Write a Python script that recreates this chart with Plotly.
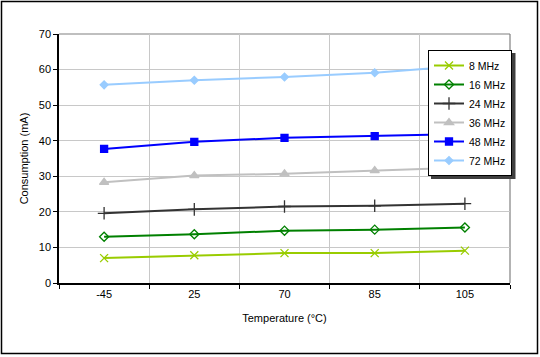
import plotly.graph_objects as go

temps = ["-45", "25", "70", "85", "105"]
freq_labels = ["8 MHz", "16 MHz", "24 MHz", "36 MHz", "48 MHz", "72 MHz"]
mhz8 = [7.0, 7.8, 8.4, 8.4, 9.1]
mhz16 = [13.0, 13.7, 14.7, 15.0, 15.6]
mhz24 = [19.6, 20.7, 21.5, 21.7, 22.3]
mhz36 = [28.3, 30.2, 30.7, 31.6, 32.5]
mhz48 = [37.7, 39.7, 40.8, 41.3, 41.9]
mhz72 = [55.7, 57.0, 57.9, 59.1, 61.1]

series = [mhz8, mhz16, mhz24, mhz36, mhz48, mhz72]
colors = ["#99CC00", "#008000", "#333333", "#C0C0C0", "#0000FF", "#99CCFF"]
symbols = ["x-thin", "diamond-open", "cross-thin", "triangle-up", "square", "diamond"]
sizes = [8, 7, 9, 8, 7, 6]

fig = go.Figure()
for name, vals, c, s, sz in zip(freq_labels, series, colors, symbols, sizes):
    fig.add_trace(go.Scatter(
        x=temps, y=vals, name=name, mode="lines+markers",
        line=dict(color=c, width=2),
        marker=dict(symbol=s, size=sz, color=c, line=dict(color=c, width=1.3)),
    ))

L, R, T, B = 59, 30, 34, 74
W, H = 540, 357
pw, ph = W - L - R, H - T - B

def px(x):
    return (x - L) / pw

def py(y):
    return (H - B - y) / ph

LEG_X, LEG_Y = 428, 50

fig.update_layout(
    width=W, height=H,
    margin=dict(l=L, r=R, t=T, b=B),
    paper_bgcolor="white", plot_bgcolor="white",
    font=dict(family="Liberation Sans, Arial, sans-serif", size=11, color="black"),
    showlegend=True,
    legend=dict(
        x=px(LEG_X), y=py(LEG_Y), xanchor="left", yanchor="top",
        bgcolor="white", bordercolor="black", borderwidth=1,
        font=dict(size=10.5), tracegroupgap=0, itemwidth=30,
    ),
    xaxis=dict(
        type="category", range=[-0.5, 4.5], tickson="boundaries",
        ticks="outside", ticklen=4, tickcolor="black",
        showline=True, linecolor="black", linewidth=1.5,
        showgrid=True, gridcolor="#C8C8C8", gridwidth=1,
        title=dict(text="Temperature (°C)", standoff=15, font=dict(size=11)),
        tickfont=dict(size=11), fixedrange=True,
    ),
    yaxis=dict(
        range=[0, 70], dtick=10, tick0=0,
        ticks="outside", ticklen=4, tickcolor="black",
        showline=True, linecolor="black", linewidth=1.5,
        showgrid=True, gridcolor="#C8C8C8", gridwidth=1, zeroline=False,
        title=dict(text="Consumption (mA)", standoff=8, font=dict(size=11)),
        tickfont=dict(size=11), fixedrange=True,
    ),
    shapes=[
        dict(type="rect", xref="paper", yref="paper",
             x0=px(1.5), x1=px(537.5), y0=py(353.5), y1=py(1.5),
             line=dict(color="black", width=1.5), layer="below"),
        dict(type="line", xref="paper", yref="paper", x0=0, x1=1, y0=1, y1=1,
             line=dict(color="#808080", width=1.2), layer="below"),
        dict(type="line", xref="paper", yref="paper", x0=1, x1=1, y0=0, y1=1,
             line=dict(color="#808080", width=1.2), layer="below"),
        dict(type="rect", xref="paper", yref="paper",
             x0=px(LEG_X + 3), x1=px(LEG_X + 87.5), y0=py(LEG_Y + 129), y1=py(LEG_Y + 3),
             fillcolor="#404040", line=dict(width=0), layer="above"),
    ],
)

fig.write_html(
    "out.html",
    config={"displayModeBar": False},
    post_script="document.body.style.margin='0';document.body.style.padding='0';",
)
